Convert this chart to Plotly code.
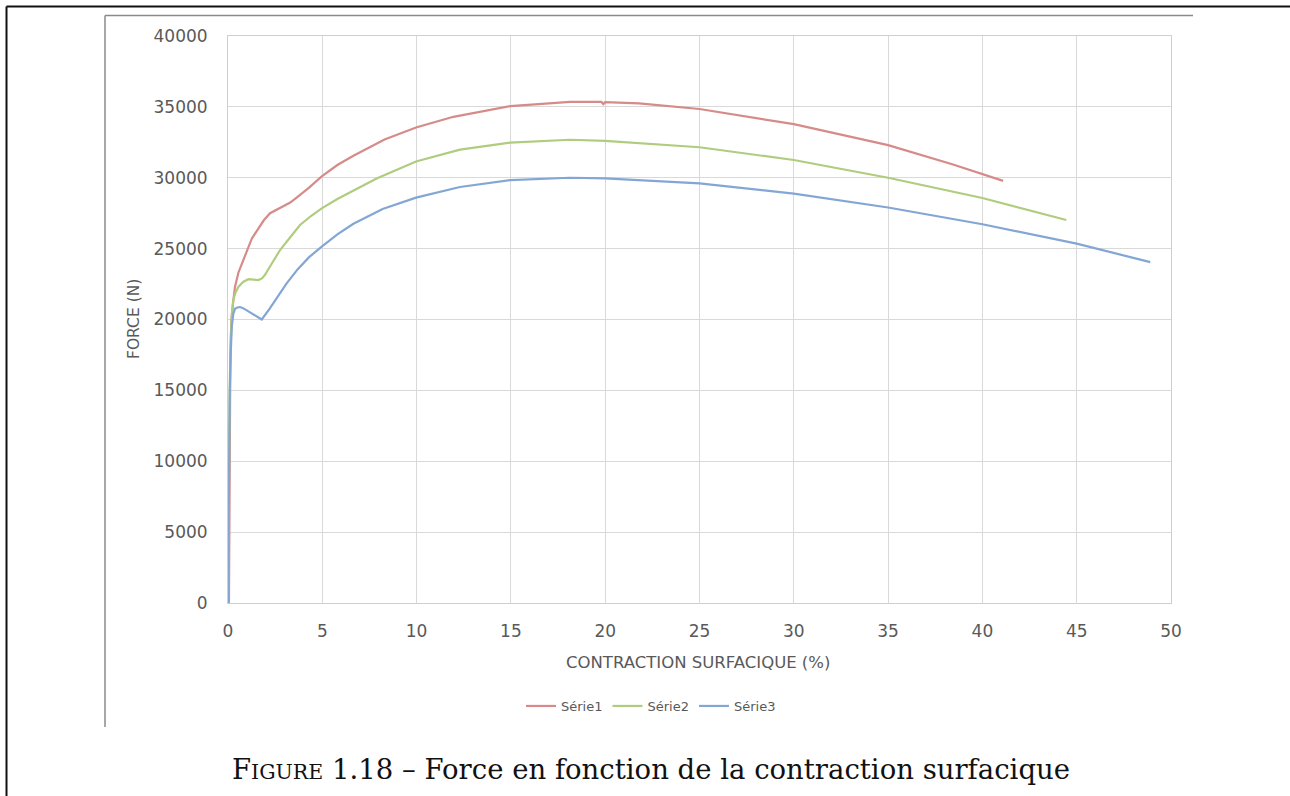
import plotly.graph_objects as go

# ---- data ----
serie1_x = [0.05, 0.07, 0.09, 0.12, 0.16, 0.2, 0.28, 0.37, 0.55, 0.81, 1.05, 1.26, 1.6, 1.9, 2.23,
            2.8, 3.3, 3.64, 4.3, 4.97, 5.8, 6.65, 8.3, 9.97, 11.95, 14.97, 18.13, 19.8, 19.9,
            20.0, 21.8, 25, 30, 35, 38.4, 41.1]
serie1_y = [0, 6000, 12000, 16500, 19000, 20300, 21300, 22300, 23300, 24200, 25000, 25700,
            26400, 27000, 27500, 27900, 28250, 28600, 29300, 30100, 30900, 31550, 32700, 33550,
            34300, 35050, 35350, 35350, 35200, 35330, 35250, 34850, 33780, 32300, 30950, 29780]

serie2_x = [0, 0.02, 0.05, 0.09, 0.14, 0.2, 0.28, 0.4, 0.55, 0.8, 1.08, 1.35, 1.61, 1.8, 1.96,
            2.3, 2.76, 3.3, 3.82, 4.4, 4.97, 5.8, 6.65, 7.88, 9.97, 12.3, 14.97, 18.13, 20,
            25, 30, 35, 40, 44.45]
serie2_y = [0, 5000, 10000, 15000, 18500, 20300, 21400, 21900, 22300, 22650, 22840, 22800,
            22780, 22900, 23150, 23900, 24900, 25800, 26670, 27300, 27840, 28500, 29100, 29950,
            31150, 31980, 32480, 32680, 32600, 32150, 31250, 30000, 28570, 27020]

serie3_x = [0, 0.02, 0.05, 0.09, 0.14, 0.2, 0.28, 0.37, 0.5, 0.64, 0.8, 1.1, 1.45, 1.79, 2.2,
            2.6, 3.11, 3.7, 4.3, 4.97, 5.8, 6.65, 8.2, 9.97, 12.3, 14.97, 18.13, 20, 25, 30,
            35, 40, 45, 48.9]
serie3_y = [0, 5000, 10000, 14500, 17500, 19500, 20400, 20750, 20850, 20880, 20800, 20550,
            20280, 20000, 20750, 21550, 22550, 23550, 24400, 25140, 26000, 26750, 27800, 28600,
            29350, 29830, 30000, 29950, 29600, 28880, 27900, 26720, 25350, 24050]

series_names = ["Série1", "Série2", "Série3"]
series_colors = ["#D68B89", "#B0CC7E", "#83A6D4"]

x_title = "CONTRACTION SURFACIQUE (%)"
y_title = "FORCE (N)"
caption_html = ('F<span style="font-size:20.5px">IGURE</span> 1.18 – Force en fonction de la '
                'contraction surfacique')

# ---- layout geometry (pixels) ----
W, H = 1290, 796
L, R, T, B = 228, 1171, 36, 603
PW, PH = R - L, B - T


def px(x):
    return (x - L) / PW


def py(y):
    return (B - y) / PH


fig = go.Figure()
for xs, ys, name, col in zip([serie1_x, serie2_x, serie3_x],
                             [serie1_y, serie2_y, serie3_y],
                             series_names, series_colors):
    fig.add_trace(go.Scatter(x=xs, y=ys, mode="lines", name=name,
                             line=dict(color=col, width=2.2)))

tick_font = dict(family="DejaVu Sans", size=17, color="#595959")

fig.update_layout(
    width=W, height=H,
    margin=dict(l=L, r=W - R, t=T, b=H - B, pad=0),
    paper_bgcolor="white", plot_bgcolor="white",
    showlegend=True,
    legend=dict(orientation="h", x=px(651), y=py(706), xanchor="center", yanchor="middle",
                font=dict(family="DejaVu Sans", size=13, color="#595959"),
                bgcolor="rgba(0,0,0,0)", itemwidth=30, tracegroupgap=0),
    xaxis=dict(range=[0, 50], dtick=5, tick0=0, showgrid=True, gridcolor="#D9D9D9",
               gridwidth=1, showline=True, linecolor="#CFCFCF", linewidth=1, mirror=True,
               zeroline=False, ticks="", tickfont=tick_font, ticklabelstandoff=13,
               fixedrange=True),
    yaxis=dict(range=[0, 40000], dtick=5000, tick0=0, showgrid=True, gridcolor="#D9D9D9",
               gridwidth=1, showline=True, linecolor="#CFCFCF", linewidth=1, mirror=True,
               zeroline=False, ticks="", tickfont=tick_font, tickformat="d",
               ticklabelstandoff=16, fixedrange=True),
)

annotations = [
    dict(text=x_title, x=px(698), y=py(662), xref="paper", yref="paper", showarrow=False,
         xanchor="center", yanchor="middle",
         font=dict(family="DejaVu Sans", size=16.5, color="#595959")),
    dict(text=y_title, x=px(134), y=py(319), xref="paper", yref="paper", showarrow=False,
         xanchor="center", yanchor="middle", textangle=-90,
         font=dict(family="DejaVu Sans", size=15.5, color="#595959")),
    dict(text=caption_html, x=px(651), y=py(769), xref="paper", yref="paper", showarrow=False,
         xanchor="center", yanchor="middle",
         font=dict(family="DejaVu Serif", size=27.5, color="#111111")),
]
fig.update_layout(annotations=annotations)

shapes = [
    # outer black page frame (top and left)
    dict(type="line", xref="paper", yref="paper", x0=px(6.5), y0=py(6.5), x1=px(1300), y1=py(6.5),
         line=dict(color="#111111", width=2)),
    dict(type="line", xref="paper", yref="paper", x0=px(6.5), y0=py(6.5), x1=px(6.5), y1=py(810),
         line=dict(color="#111111", width=2)),
    # inner grey chart frame (top and left)
    dict(type="line", xref="paper", yref="paper", x0=px(105), y0=py(15.5), x1=px(1193), y1=py(15.5),
         line=dict(color="#8A8A8A", width=1.5)),
    dict(type="line", xref="paper", yref="paper", x0=px(105), y0=py(15.5), x1=px(105), y1=py(727),
         line=dict(color="#8A8A8A", width=1.5)),
]
fig.update_layout(shapes=shapes)

fig.write_html("out.html", config={"displayModeBar": False},
               post_script="document.body.style.margin='0';document.body.style.overflow='hidden';")
